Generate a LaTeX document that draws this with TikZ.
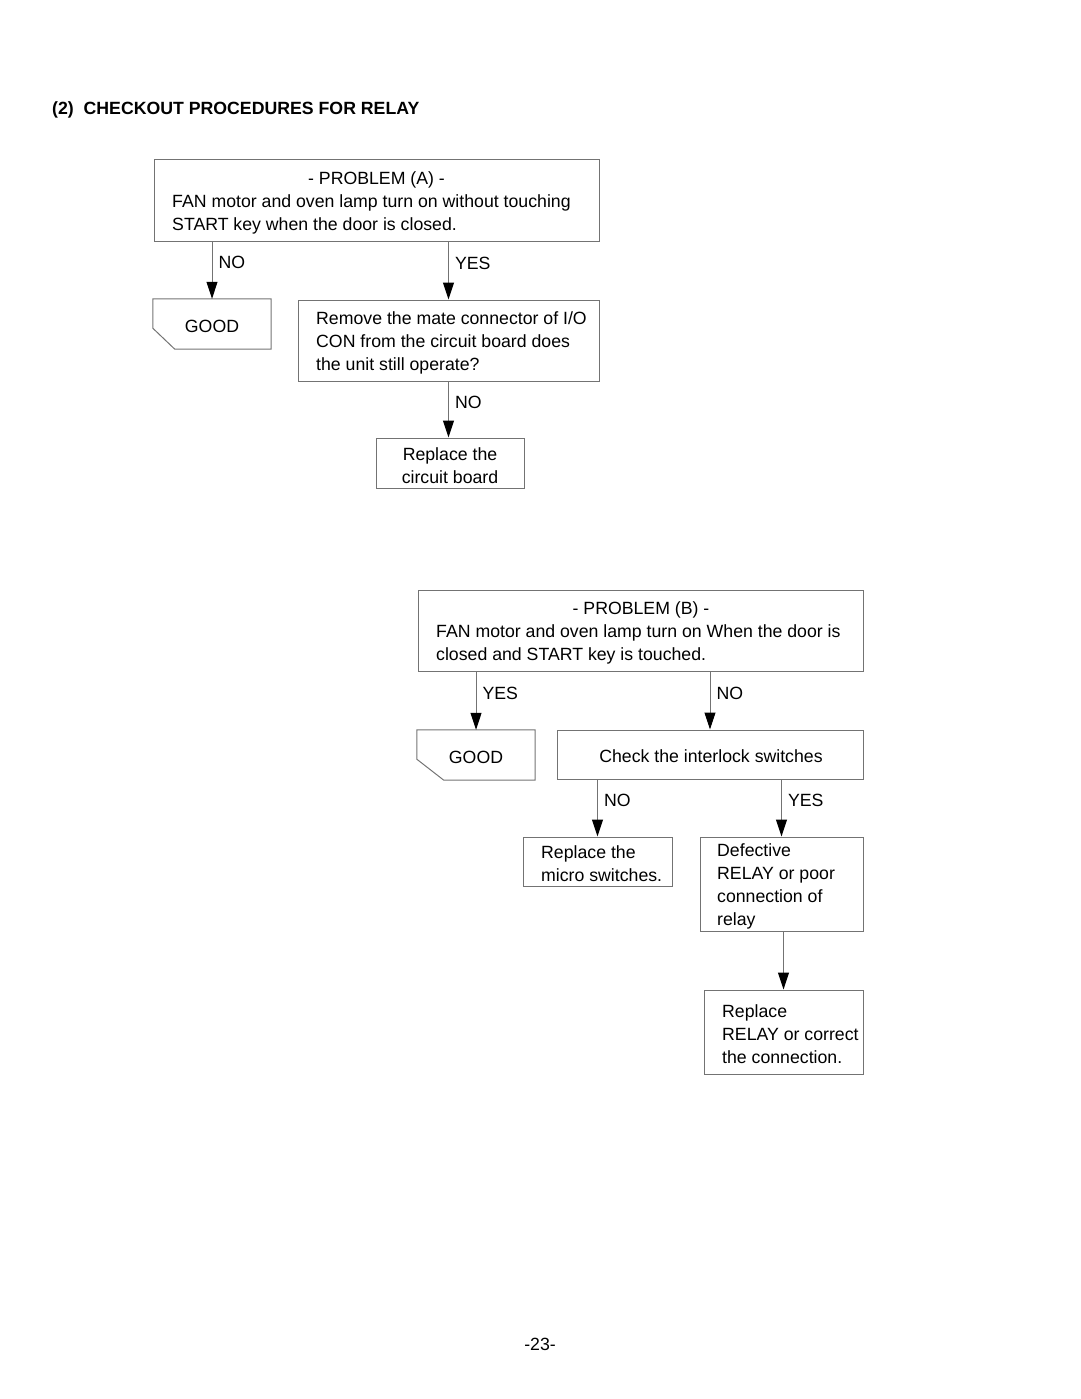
\documentclass[tikz,border=0pt]{standalone}
\usepackage{fontspec}
\setmainfont{Liberation Sans}
\usetikzlibrary{arrows.meta,calc}
\definecolor{linegray}{gray}{0.45}
\begin{document}
\begin{tikzpicture}[x=1pt,y=-1pt,
  every node/.style={font=\fontsize{17.7}{23}\selectfont, inner sep=0pt},
  box/.style={draw=linegray, line width=1pt, rectangle, inner sep=0pt},
  plainbox/.style={rectangle, inner sep=0pt},
  txt/.style={align=left, anchor=west},
  ctxt/.style={align=center},
  lab/.style={anchor=west, xshift=6pt, pos=0.37},
  arr/.style={draw=linegray, line width=1pt, -{Triangle[length=17pt,width=11pt,color=black]}},
]
\useasboundingbox (0,0) rectangle (1080,1399);

% title and page number
\node[anchor=west, font=\fontsize{17.7}{23}\selectfont\bfseries] (title) at (52,110) {(2)\ \ CHECKOUT PROCEDURES FOR RELAY};
\node (page) at (540,1344) {-23-};

% ---------- Problem A ----------
\node[box, minimum width=445pt, minimum height=81pt] (pa) at (376.5,200.5) {};
\node (paT) at (376.5,180) {- PROBLEM (A) -};
\node[txt] (paB) at (172,214.5) {FAN motor and oven lamp turn on without touching\\START key when the door is closed.};

\node[plainbox, minimum width=118pt, minimum height=50pt] (goodA) at (212,324) {};
\node (goodAT) at (212,326) {GOOD};
\draw[draw=linegray, line width=1pt] (goodA.north west) -- ([yshift=21pt]goodA.south west) -- ([xshift=22pt]goodA.south west) -- (goodA.south east) -- (goodA.north east) -- cycle;

\node[box, minimum width=301pt, minimum height=81pt] (rem) at (448.5,340.5) {};
\node[txt] (remT) at (316,342.5) {Remove the mate connector of I/O\\CON from the circuit board does\\the unit still operate?};

\node[box, minimum width=148pt, minimum height=50pt] (rcb) at (450,463) {};
\node[ctxt] (rcbT) at (450,465.5) {Replace the\\circuit board};

\draw[arr] (goodA.north |- pa.south) -- node[lab] {NO} (goodA.north);
\draw[arr] (rem.north |- pa.south) -- node[lab] {YES} (rem.north);
\draw[arr] (rem.south) -- node[lab] {NO} (rem.south |- rcb.north);

% ---------- Problem B ----------
\node[box, minimum width=445pt, minimum height=81pt] (pb) at (640.5,630.5) {};
\node (pbT) at (641,610) {- PROBLEM (B) -};
\node[txt] (pbB) at (436,644.5) {FAN motor and oven lamp turn on When the door is\\closed and START key is touched.};

\node[plainbox, minimum width=118pt, minimum height=50pt] (goodB) at (476,755) {};
\node (goodBT) at (476,757) {GOOD};
\draw[draw=linegray, line width=1pt] (goodB.north west) -- ([yshift=21pt]goodB.south west) -- ([xshift=27pt]goodB.south west) -- (goodB.south east) -- (goodB.north east) -- cycle;

\node[box, minimum width=306pt, minimum height=49pt] (chk) at (710,754.5) {};
\node (chkT) at (711,756.5) {Check the interlock switches};

\node[box, minimum width=149pt, minimum height=49pt] (rms) at (597.5,861.5) {};
\node[txt] (rmsT) at (541,863.5) {Replace the\\micro switches.};

\node[box, minimum width=163pt, minimum height=94pt] (def) at (781.5,884) {};
\node[txt] (defT) at (717,886.5) {Defective\\RELAY or poor\\connection of\\relay};

\node[box, minimum width=159pt, minimum height=84pt] (rr) at (783.5,1032) {};
\node[txt] (rrT) at (722,1034) {Replace\\RELAY or correct\\the connection.};

\draw[arr] (goodB.north |- pb.south) -- node[lab] {YES} (goodB.north);
\draw[arr] (chk.north |- pb.south) -- node[lab] {NO} (chk.north);
\draw[arr] (rms.north |- chk.south) -- node[lab] {NO} (rms.north);
\draw[arr] (def.north |- chk.south) -- node[lab] {YES} (def.north);
\draw[arr] (rr.north |- def.south) -- (rr.north);
\end{tikzpicture}
\end{document}
